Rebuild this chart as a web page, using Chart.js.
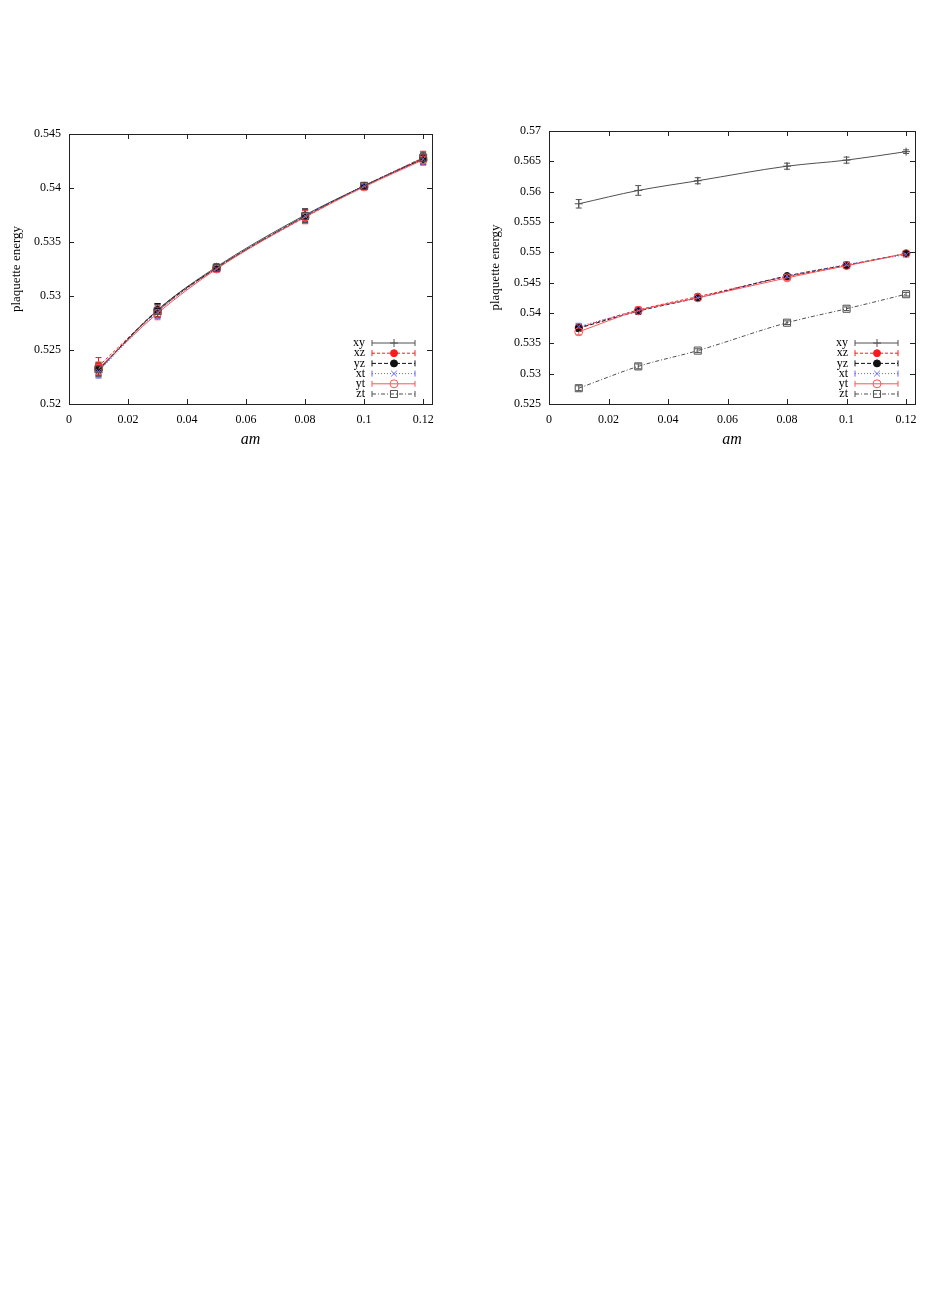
<!DOCTYPE html>
<html>
<head>
<meta charset="utf-8">
<script src="https://cdn.jsdelivr.net/npm/chart.js@4.4.1/dist/chart.umd.min.js"></script>
<style>
  body { margin: 0; background: #fff; width: 926px; height: 1309px; position: relative; overflow: hidden; }
  canvas { position: absolute; top: 110px; }
  #c1 { left: 0; }
  #c2 { left: 470px; }
</style>
</head>
<body>
<canvas id="c1" width="460" height="345"></canvas>
<canvas id="c2" width="456" height="345"></canvas>
<script>
const am = [0.01, 0.03, 0.05, 0.08, 0.1, 0.12];
const planes = ['xy', 'xz', 'yz', 'xt', 'yt', 'zt'];

// left panel: all planes nearly on top of each other
const leftXY = [0.5231, 0.5287, 0.5327, 0.5375, 0.5402, 0.5427];
const leftXZ = [0.5235, 0.5286, 0.5326, 0.5373, 0.5402, 0.5428];
const leftYZ = [0.5232, 0.5287, 0.5326, 0.5374, 0.5402, 0.5427];
const leftXT = [0.5230, 0.5285, 0.5325, 0.5374, 0.5402, 0.5427];
const leftYT = [0.5233, 0.5284, 0.5325, 0.5373, 0.5401, 0.5426];
const leftZT = [0.5232, 0.5286, 0.5326, 0.5374, 0.5402, 0.5428];
const leftErr = [0.0006, 0.0006, 0.0003, 0.0006, 0.0003, 0.0005];
const leftErrXZ = [0.0008, 0.0006, 0.0003, 0.0006, 0.0003, 0.0006];

// right panel: xy on top, zt below, the rest in between
const rightXY = [0.5580, 0.5602, 0.5618, 0.5642, 0.5652, 0.5666];
const rightXZ = [0.5376, 0.5405, 0.5427, 0.5460, 0.5478, 0.5498];
const rightYZ = [0.5375, 0.5403, 0.5425, 0.5461, 0.5479, 0.5498];
const rightXT = [0.5378, 0.5404, 0.5425, 0.5461, 0.5480, 0.5496];
const rightYT = [0.5369, 0.5404, 0.5425, 0.5458, 0.5478, 0.5498];
const rightZT = [0.5276, 0.5312, 0.5338, 0.5384, 0.5407, 0.5431];
const rightErrXY = [0.0007, 0.0008, 0.0005, 0.0005, 0.0005, 0.0003];
const rightErrMid = [0.0005, 0.0005, 0.0004, 0.0004, 0.0004, 0.0003];
const rightErrZT = [0.0004, 0.0004, 0.0003, 0.0003, 0.0003, 0.0003];

// x range runs a little past the last tick, like the gnuplot original
const xRange = [0, 0.123];
const xStep = 0.02;
const yStep = 0.005;

// gnuplot-ish line styles, one per plane
const looks = [
  { color: '#505050', dash: [], point: 'cross', r: 4, fill: false },
  { color: '#ff1a1a', dash: [3, 2], point: 'circle', r: 3.5, fill: true },
  { color: '#111111', dash: [4, 2], point: 'circle', r: 3.5, fill: true },
  { color: '#6464ff', dash: [1, 2], point: 'crossRot', r: 4, fill: false },
  { color: '#ff5555', dash: [], point: 'circle', r: 4, fill: false },
  { color: '#505050', dash: [4, 2, 1, 2], point: 'rect', r: 5, fill: false }
];

const serif = '"Liberation Serif", "DejaVu Serif", serif';

const errorBars = {
    id: 'errorBars',
    beforeDatasetsDraw(chart) {
        const { ctx, scales: { x, y } } = chart;
        ctx.save();
        chart.data.datasets.forEach(ds => {
            ctx.strokeStyle = ds.borderColor;
            ctx.lineWidth = 1;
            ds.data.forEach((p, i) => {
                const e = ds.errors[i];
                const px = x.getPixelForValue(p.x);
                const y1 = y.getPixelForValue(p.y - e);
                const y2 = y.getPixelForValue(p.y + e);
                ctx.beginPath();
                ctx.moveTo(px, y1); ctx.lineTo(px, y2);
                ctx.moveTo(px - 3, y1); ctx.lineTo(px + 3, y1);
                ctx.moveTo(px - 3, y2); ctx.lineTo(px + 3, y2);
                ctx.stroke();
            });
        });
        ctx.restore();
    }
};

// frame with inward ticks on all four sides, plus the legend inside the plot
const frame = {
    id: 'frame',
    afterDraw(chart) {
        const { ctx, chartArea: a, scales: { x, y } } = chart;
        ctx.save();
        ctx.strokeStyle = '#222';
        ctx.lineWidth = 1;
        ctx.strokeRect(a.left + 0.5, a.top + 0.5, a.right - a.left, a.bottom - a.top);
        ctx.beginPath();
        x.ticks.forEach(t => {
            const px = Math.round(x.getPixelForValue(t.value)) + 0.5;
            ctx.moveTo(px, a.bottom); ctx.lineTo(px, a.bottom - 5);
            ctx.moveTo(px, a.top); ctx.lineTo(px, a.top + 5);
        });
        y.ticks.forEach(t => {
            const py = Math.round(y.getPixelForValue(t.value)) + 0.5;
            ctx.moveTo(a.left, py); ctx.lineTo(a.left + 5, py);
            ctx.moveTo(a.right, py); ctx.lineTo(a.right - 5, py);
        });
        ctx.stroke();

        // legend
        ctx.font = '12px ' + serif;
        ctx.textAlign = 'right';
        ctx.textBaseline = 'middle';
        chart.data.datasets.forEach((ds, i) => {
            const ly = a.bottom - 61 + i * 10.2;
            const x0 = a.right - 60, x1 = a.right - 17, xm = a.right - 38;
            ctx.fillStyle = '#000';
            ctx.fillText(ds.label, a.right - 67, ly);
            ctx.strokeStyle = ds.borderColor;
            ctx.setLineDash(ds.borderDash);
            ctx.beginPath();
            ctx.moveTo(x0, ly); ctx.lineTo(x1, ly);
            ctx.stroke();
            ctx.setLineDash([]);
            ctx.beginPath();
            ctx.moveTo(x0, ly - 3); ctx.lineTo(x0, ly + 3);
            ctx.moveTo(x1, ly - 3); ctx.lineTo(x1, ly + 3);
            ctx.stroke();
            ctx.fillStyle = ds.pointBackgroundColor;
            Chart.helpers.drawPoint(ctx, {
                pointStyle: ds.pointStyle, radius: ds.pointRadius,
                rotation: 0, borderWidth: 1
            }, xm, ly);
        });
        ctx.restore();
    }
};

function makeChart(id, series, errs, yMin, yMax, pad, yTitlePad) {
    const datasets = series.map((vals, i) => {
        const lk = looks[i];
        return {
            label: planes[i],
            data: vals.map((v, j) => ({ x: am[j], y: v })),
            errors: errs[i],
            borderColor: lk.color,
            borderWidth: 1,
            borderDash: lk.dash,
            pointStyle: lk.point,
            pointRadius: lk.r,
            pointBorderWidth: 1,
            pointBorderColor: lk.color,
            pointBackgroundColor: lk.fill ? lk.color : 'rgba(0,0,0,0)',
            cubicInterpolationMode: 'monotone',
            fill: false,
            order: 5 - i
        };
    });

    return new Chart(document.getElementById(id), {
        type: 'line',
        data: { datasets },
        options: {
            responsive: false,
            animation: false,
            layout: { padding: { top: pad.top, right: pad.right, left: 0, bottom: 0 } },
            plugins: { legend: { display: false }, tooltip: { enabled: false } },
            scales: {
                x: {
                    type: 'linear',
                    min: xRange[0], max: xRange[1],
                    grid: { display: false, drawTicks: false },
                    border: { display: false },
                    ticks: {
                        stepSize: xStep, padding: 9, color: '#000',
                        includeBounds: false,
                        font: { family: serif, size: 12 },
                        callback: v => String(+v.toFixed(2))
                    },
                    title: {
                        display: true, text: 'am', color: '#000',
                        font: { family: serif, size: 16, style: 'italic' },
                        padding: { top: 0, bottom: 6 }
                    },
                    afterFit: s => { s.height = 51; s.paddingRight = 0; s.paddingLeft = 0; }
                },
                y: {
                    min: yMin, max: yMax,
                    grid: { display: false, drawTicks: false },
                    border: { display: false },
                    ticks: {
                        stepSize: yStep, padding: 8, color: '#000',
                        font: { family: serif, size: 12 },
                        callback: v => String(+v.toFixed(3))
                    },
                    title: {
                        display: true, text: 'plaquette energy', color: '#000',
                        font: { family: serif, size: 13 },
                        padding: { top: yTitlePad, bottom: 0 }
                    },
                    afterFit: s => { s.width = pad.yWidth; s.paddingTop = 0; s.paddingBottom = 0; }
                }
            }
        },
        plugins: [errorBars, frame]
    });
}

makeChart('c1',
    [leftXY, leftXZ, leftYZ, leftXT, leftYT, leftZT],
    [leftErr, leftErrXZ, leftErr, leftErr, leftErr, leftErr],
    0.52, 0.545,
    { top: 24, right: 28, yWidth: 69 }, 9);

makeChart('c2',
    [rightXY, rightXZ, rightYZ, rightXT, rightYT, rightZT],
    [rightErrXY, rightErrMid, rightErrMid, rightErrMid, rightErrMid, rightErrZT],
    0.525, 0.57,
    { top: 21, right: 11, yWidth: 79 }, 18);
</script>
</body>
</html>
